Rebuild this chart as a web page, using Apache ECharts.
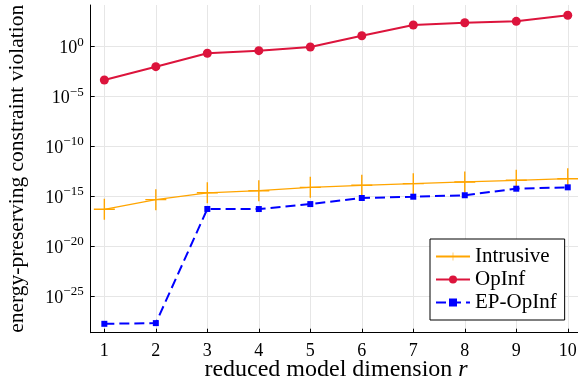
<!DOCTYPE html>
<html>
<head>
<meta charset="utf-8">
<script src="https://cdn.jsdelivr.net/npm/echarts@6/dist/echarts.min.js"></script>
<style>
  html, body { margin: 0; padding: 0; background: #fff; }
  #chart { width: 578px; height: 383px; }
</style>
</head>
<body>
<div id="chart"></div>
<script>
// reduced model dimension r
const dims = [1, 2, 3, 4, 5, 6, 7, 8, 9, 10];
// constraint violation per method
const intrusive = [5.1e-17, 4.7e-16, 2.3e-15, 3.7e-15, 8.1e-15, 1.3e-14, 1.9e-14, 2.8e-14, 4.1e-14, 5.9e-14];
const opinf = [4.6e-4, 1.0e-2, 0.22, 0.40, 0.93, 12.6, 148, 251, 347, 1413];
const epOpinf = [1.7e-28, 2.0e-28, 5.5e-17, 5.4e-17, 1.7e-16, 6.9e-16, 9.3e-16, 1.3e-15, 5.9e-15, 8.1e-15];
const names = ['Intrusive', 'OpInf', 'EP-OpInf'];

const FONT = 'Liberation Serif';
const plus = 'path://M-0.8,-12 L0.8,-12 L0.8,-0.8 L12,-0.8 L12,0.8 L0.8,0.8 L0.8,12 L-0.8,12 L-0.8,0.8 L-12,0.8 L-12,-0.8 L-0.8,-0.8 Z';

function toLog(vals) {
  return dims.map((d, i) => [d, Math.log10(vals[i])]);
}

const chart = echarts.init(document.getElementById('chart'));
chart.setOption({
  animation: false,
  backgroundColor: '#fff',
  grid: { left: 90.7, top: 5, width: 490.7, bottom: 50.3, containLabel: false, outerBoundsMode: 'none' },
  legend: {
    orient: 'vertical',
    left: 430,
    top: 239,
    padding: [7, 8, 7, 5],
    itemGap: 2,
    itemWidth: 34,
    itemHeight: 10,
    borderColor: '#000',
    borderWidth: 1,
    backgroundColor: '#fff',
    textStyle: { fontFamily: FONT, fontSize: 21, color: '#000' },
    data: names
  },
  xAxis: {
    type: 'value',
    min: 0.735,
    max: 10.265,
    minInterval: 1,
    maxInterval: 1,
    name: 'reduced model dimension {i|r}',
    nameLocation: 'middle',
    nameGap: 25,
    nameMoveOverlap: false,
    nameTextStyle: {
      fontFamily: FONT, fontSize: 24, color: '#000',
      rich: { i: { fontFamily: FONT, fontSize: 24, fontStyle: 'italic', color: '#000' } }
    },
    axisLine: { show: true, onZero: false, lineStyle: { color: '#000', width: 1 } },
    axisTick: { show: true, inside: true, length: 4, lineStyle: { color: '#000' } },
    axisLabel: {
      fontFamily: FONT, fontSize: 18, color: '#000', margin: 10,
      showMinLabel: false, showMaxLabel: false
    },
    splitLine: { show: true, showMinLine: false, showMaxLine: false, lineStyle: { color: '#e6e6e6', width: 1 } }
  },
  yAxis: {
    type: 'value',
    min: -28.66,
    max: 4.18,
    minInterval: 5,
    maxInterval: 5,
    name: 'energy-preserving constraint violation',
    nameLocation: 'middle',
    nameGap: 62,
    nameMoveOverlap: false,
    nameTextStyle: { fontFamily: FONT, fontSize: 21.5, color: '#000' },
    axisLine: { show: true, onZero: false, lineStyle: { color: '#000', width: 1 } },
    axisTick: { show: true, inside: true, length: 4, lineStyle: { color: '#000' } },
    axisLabel: {
      margin: 7,
      showMinLabel: false, showMaxLabel: false,
      formatter: v => '{b|10}{s|' + String(Math.round(v)).replace('-', '\u2212') + '}',
      rich: {
        b: { fontFamily: FONT, fontSize: 18, color: '#000', lineHeight: 22, verticalAlign: 'bottom' },
        s: { fontFamily: FONT, fontSize: 13, color: '#000', lineHeight: 22, verticalAlign: 'top' }
      }
    },
    splitLine: { show: true, showMinLine: false, showMaxLine: false, lineStyle: { color: '#e6e6e6', width: 1 } }
  },
  series: [
    {
      name: names[0], type: 'line', data: toLog(intrusive),
      symbol: plus, symbolSize: 21,
      itemStyle: { color: '#ffa500' },
      lineStyle: { color: '#ffa500', width: 1.3 },
      z: 2
    },
    {
      name: names[1], type: 'line', data: toLog(opinf),
      symbol: 'circle', symbolSize: 9,
      itemStyle: { color: '#dc143c' },
      lineStyle: { color: '#dc143c', width: 2 },
      z: 3
    },
    {
      name: names[2], type: 'line', data: toLog(epOpinf),
      symbol: 'rect', symbolSize: 6,
      itemStyle: { color: '#0000ff' },
      lineStyle: { color: '#0000ff', width: 2, type: [10, 5] },
      z: 4
    }
  ]
});
</script>
</body>
</html>
